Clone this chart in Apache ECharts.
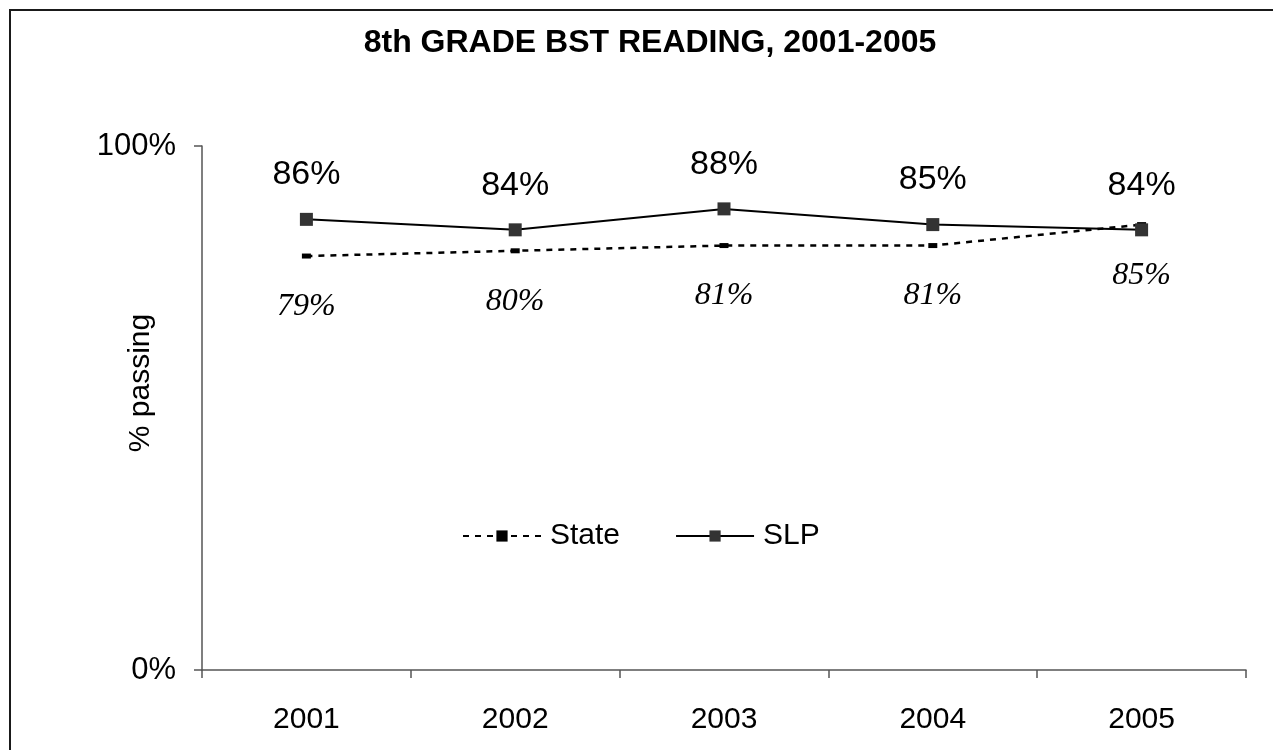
<!DOCTYPE html>
<html>
<head>
<meta charset="utf-8">
<title>8th GRADE BST READING</title>
<script src="https://cdn.jsdelivr.net/npm/echarts@6/dist/echarts.min.js"></script>
<style>
  html, body { margin: 0; padding: 0; background: #fff; }
  #chart { width: 1273px; height: 750px; }
</style>
</head>
<body>
<div id="chart"></div>
<script>
// 数据
const years = ['2001', '2002', '2003', '2004', '2005'];
const stateVals = [79, 80, 81, 81, 85];
const slpVals = [86, 84, 88, 85, 84];
const yTicks = [0, 100];

const chart = echarts.init(document.getElementById('chart'));

chart.setOption({
    animation: false,
    backgroundColor: '#fff',
    title: {
        text: '8th GRADE BST READING, 2001-2005',
        left: 645,
        top: 22,
        textAlign: 'center',
        textStyle: {
            fontFamily: 'Liberation Sans, Arial, sans-serif',
            fontSize: 32,
            fontWeight: 'bold',
            color: '#000'
        }
    },
    graphic: [
        {
            type: 'rect',
            shape: { x: 10, y: 10, width: 1400, height: 900 },
            style: { fill: 'none', stroke: '#1a1a1a', lineWidth: 2 },
            silent: true
        }
    ],
    legend: {
        left: 457,
        top: 516,
        itemWidth: 78,
        itemHeight: 14,
        itemGap: 55,
        textStyle: {
            fontFamily: 'Liberation Sans, Arial, sans-serif',
            fontSize: 30,
            color: '#000',
            padding: [0, 0, 0, 4]
        },
        data: ['State', 'SLP']
    },
    grid: {
        left: 202,
        right: 27,
        top: 146,
        bottom: 80
    },
    xAxis: {
        type: 'category',
        data: years,
        boundaryGap: true,
        axisLine: { show: true, lineStyle: { color: '#555', width: 1.5 } },
        axisTick: { show: true, length: 8, lineStyle: { color: '#555', width: 1.5 } },
        axisLabel: {
            margin: 35,
            fontFamily: 'Liberation Sans, Arial, sans-serif',
            fontSize: 30,
            color: '#000'
        }
    },
    yAxis: {
        type: 'value',
        min: yTicks[0],
        max: yTicks[yTicks.length - 1],
        interval: 100,
        name: '% passing',
        nameLocation: 'middle',
        nameGap: 46,
        nameMoveOverlap: false,
        nameTextStyle: {
            fontFamily: 'Liberation Sans, Arial, sans-serif',
            fontSize: 30,
            color: '#000',
            padding: [0, 0, 0, 50]
        },
        axisLine: { show: true, lineStyle: { color: '#555', width: 1.5 } },
        axisTick: { show: true, length: 8, lineStyle: { color: '#555', width: 1.5 } },
        splitLine: { show: false },
        axisLabel: {
            margin: 26,
            formatter: '{value}%',
            fontFamily: 'Liberation Sans, Arial, sans-serif',
            fontSize: 31,
            color: '#000'
        }
    },
    series: [
        {
            name: 'State',
            type: 'line',
            data: stateVals,
            symbol: 'rect',
            symbolSize: [9, 5],
            itemStyle: { color: '#000' },
            lineStyle: { color: '#000', width: 2.5, type: [6, 6] },
            label: {
                show: true,
                position: 'bottom',
                distance: 32,
                formatter: '{c}%',
                fontFamily: 'Liberation Serif, Times New Roman, serif',
                fontStyle: 'italic',
                fontSize: 32,
                color: '#000'
            }
        },
        {
            name: 'SLP',
            type: 'line',
            data: slpVals,
            symbol: 'rect',
            symbolSize: 13,
            itemStyle: { color: '#333' },
            lineStyle: { color: '#000', width: 2 },
            label: {
                show: true,
                position: 'top',
                distance: 21,
                formatter: '{c}%',
                fontFamily: 'Liberation Sans, Arial, sans-serif',
                fontSize: 34,
                color: '#000'
            }
        }
    ]
});

window.addEventListener('resize', function () {
    chart.resize();
});
</script>
</body>
</html>
